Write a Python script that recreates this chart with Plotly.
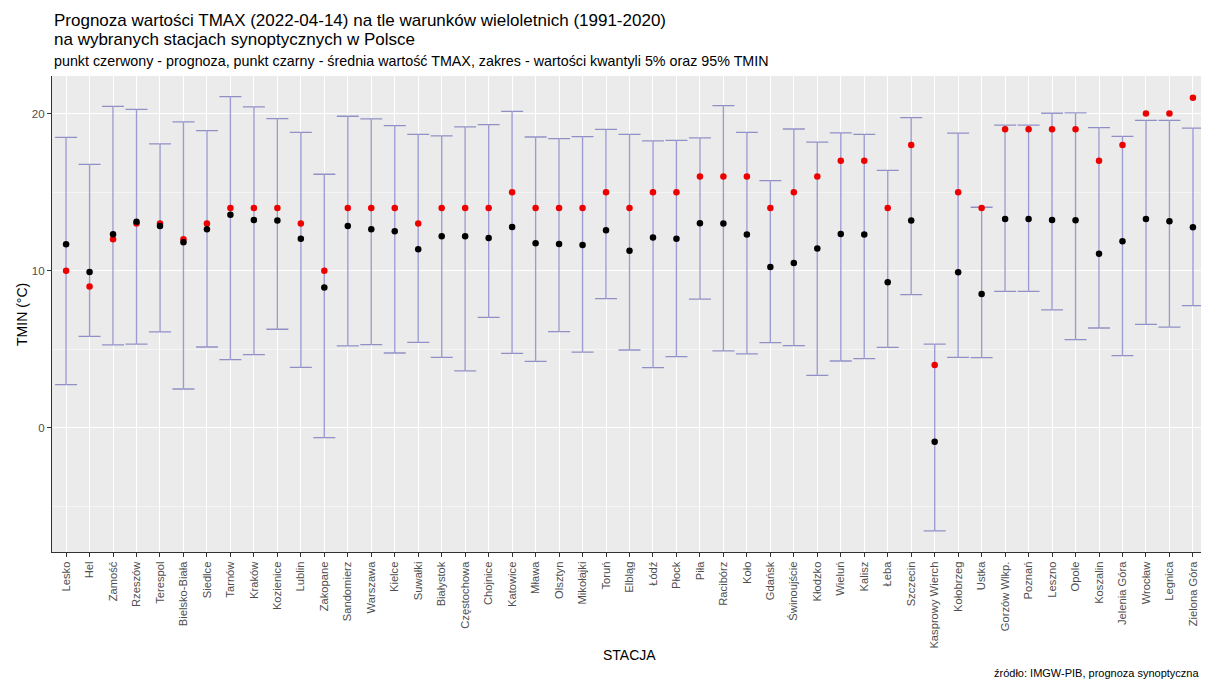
import plotly.graph_objects as go

stations = ["Lesko", "Hel", "Zamość", "Rzeszów", "Terespol", "Bielsko-Biała", "Siedlce", "Tarnów",
            "Kraków", "Kozienice", "Lublin", "Zakopane", "Sandomierz", "Warszawa", "Kielce", "Suwałki",
            "Białystok", "Częstochowa", "Chojnice", "Katowice", "Mława", "Olsztyn", "Mikołajki", "Toruń",
            "Elbląg", "Łódź", "Płock", "Piła", "Racibórz", "Koło", "Gdańsk", "Świnoujście", "Kłodzko",
            "Wieluń", "Kalisz", "Łeba", "Szczecin", "Kasprowy Wierch", "Kołobrzeg", "Ustka",
            "Gorzów Wlkp.", "Poznań", "Leszno", "Opole", "Koszalin", "Jelenia Góra", "Wrocław",
            "Legnica", "Zielona Góra"]

q95 = [18.49, 16.77, 20.46, 20.27, 18.07, 19.47, 18.92, 21.08, 20.42, 19.68, 18.81, 16.14, 19.83,
       19.66, 19.23, 18.68, 18.58, 19.15, 19.30, 20.14, 18.51, 18.41, 18.53, 19.00, 18.68, 18.26,
       18.30, 18.45, 20.51, 18.81, 15.73, 19.02, 18.18, 18.77, 18.68, 16.39, 19.74, 5.34, 18.75,
       14.04, 19.27, 19.27, 20.02, 20.04, 19.10, 18.55, 19.57, 19.57, 19.08]

q05 = [2.76, 5.83, 5.28, 5.34, 6.11, 2.48, 5.15, 4.35, 4.67, 6.28, 3.86, -0.61, 5.22, 5.30, 4.77,
       5.45, 4.49, 3.63, 7.04, 4.75, 4.24, 6.13, 4.83, 8.23, 4.96, 3.84, 4.54, 8.19, 4.90, 4.71,
       5.43, 5.24, 3.35, 4.26, 4.41, 5.13, 8.48, -6.55, 4.49, 4.47, 8.69, 8.69, 7.51, 5.62, 6.36,
       4.60, 6.59, 6.42, 7.78]

mean_tmax = [11.68, 9.92, 12.32, 13.12, 12.85, 11.81, 12.64, 13.57, 13.23, 13.19, 12.04, 8.93,
             12.85, 12.64, 12.51, 11.37, 12.19, 12.19, 12.09, 12.79, 11.75, 11.71, 11.64, 12.57,
             11.28, 12.11, 12.04, 13.02, 13.00, 12.30, 10.24, 10.50, 11.42, 12.34, 12.30, 9.27,
             13.19, -0.87, 9.90, 8.52, 13.30, 13.30, 13.23, 13.21, 11.09, 11.87, 13.30, 13.15, 12.77]

forecast = [10, 9, 12, 13, 13, 12, 13, 14, 14, 14, 13, 10, 14, 14, 14, 13, 14, 14, 14, 15, 14, 14,
            14, 15, 14, 15, 15, 16, 16, 16, 14, 15, 16, 17, 17, 14, 18, 4, 15, 14, 19, 19, 19, 19,
            17, 18, 20, 20, 21]

y_ticks = [0, 10, 20]

title_1 = "Prognoza wartości TMAX (2022-04-14) na tle warunków wieloletnich (1991-2020)"
title_2 = "na wybranych stacjach synoptycznych w Polsce"
subtitle = ("punkt czerwony - prognoza, punkt czarny - średnia wartość TMAX, "
            "zakres - wartości kwantyli 5% oraz 95% TMIN")
caption = "źródło: IMGW-PIB, prognoza synoptyczna"

FONT = "Liberation Sans, Arial, Helvetica, sans-serif"

mid = [(a + b) / 2 for a, b in zip(q95, q05)]
half = [(a - b) / 2 for a, b in zip(q95, q05)]

fig = go.Figure()
fig.add_trace(go.Scatter(
    x=stations, y=mid, mode="markers",
    marker=dict(size=1, color="rgba(0,0,0,0)"),
    error_y=dict(type="data", array=half, symmetric=True,
                 color="rgba(20,20,150,0.42)", thickness=1.3, width=11),
    hoverinfo="skip", showlegend=False))
fig.add_trace(go.Scatter(
    x=stations, y=forecast, mode="markers",
    marker=dict(size=6.5, color="#EE0000"), showlegend=False))
fig.add_trace(go.Scatter(
    x=stations, y=mean_tmax, mode="markers",
    marker=dict(size=6.5, color="black"), showlegend=False))

# page body adds an 8px offset; the figure is sized so it fills the window exactly
fig.update_layout(
    width=1201, height=671,
    margin=dict(l=44, r=2, t=68, b=127, autoexpand=False),
    paper_bgcolor="white", plot_bgcolor="#EBEBEB",
    font=dict(family=FONT, color="#4D4D4D"),
    xaxis=dict(
        type="category", range=[-0.6, len(stations) - 0.4], automargin=False,
        showgrid=True, gridcolor="white", gridwidth=1.1,
        showline=True, linecolor="#333333", linewidth=1.2,
        ticks="outside", ticklen=4, tickcolor="#333333", tickwidth=1,
        tickangle=-90, tickfont=dict(size=11.2, color="#4D4D4D"),
        zeroline=False),
    yaxis=dict(
        range=[-7.89, 22.39], tickvals=y_ticks, automargin=False,
        showgrid=True, gridcolor="white", gridwidth=1.1,
        minor=dict(dtick=5, tick0=0, showgrid=True, gridcolor="#F5F5F5", gridwidth=0.6, ticks=""),
        showline=True, linecolor="#333333", linewidth=1.2,
        ticks="outside", ticklen=4, tickcolor="#333333", tickwidth=1,
        tickfont=dict(size=11.5, color="#4D4D4D"),
        zeroline=False),
)

annos = [
    dict(text=title_1, x=0, y=1.116, size=17, color="black", xanchor="left"),
    dict(text=title_2, x=0, y=1.0765, size=17, color="black", xanchor="left"),
    dict(text=subtitle, x=0, y=1.0315, size=14.3, color="black", xanchor="left"),
    dict(text="STACJA", x=0.5, y=-0.216, size=14, color="black", xanchor="center"),
    dict(text=caption, x=0.995, y=-0.254, size=11, color="black", xanchor="right"),
]
for a in annos:
    fig.add_annotation(text=a["text"], xref="paper", yref="paper", x=a["x"], y=a["y"],
                       xanchor=a["xanchor"], yanchor="middle", showarrow=False,
                       font=dict(family=FONT, size=a["size"], color=a["color"]))
fig.add_annotation(text="TMIN (°C)", xref="paper", yref="paper", x=-0.026, y=0.5,
                   xanchor="center", yanchor="middle", textangle=-90, showarrow=False,
                   font=dict(family=FONT, size=14, color="black"))

fig.write_html("out.html")
